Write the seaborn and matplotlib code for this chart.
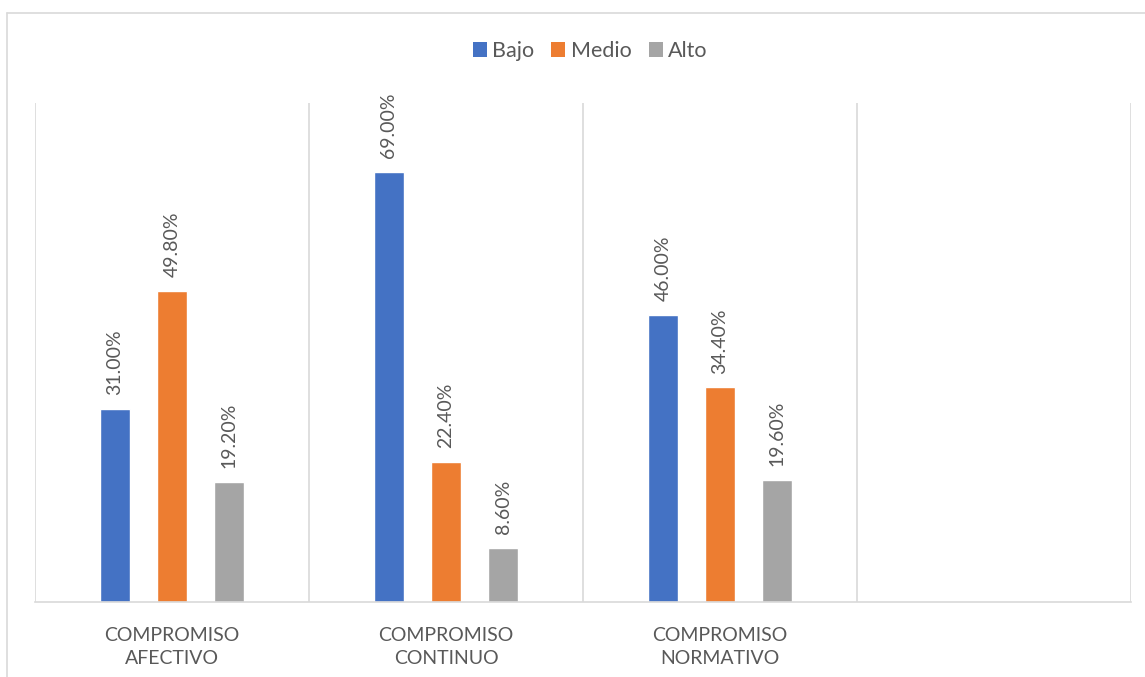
import matplotlib
matplotlib.use("Agg")
import matplotlib.pyplot as plt
from matplotlib.lines import Line2D
from matplotlib.patches import Patch
import seaborn as sns
import pandas as pd

categories = ["COMPROMISO\nAFECTIVO", "COMPROMISO\nCONTINUO", "COMPROMISO\nNORMATIVO"]
levels = ["Bajo", "Medio", "Alto"]
bajo = [31.0, 69.0, 46.0]
medio = [49.8, 22.4, 34.4]
alto = [19.2, 8.6, 19.6]
colors = ["#4472C4", "#ED7D31", "#A5A5A5"]

rows = []
for i, c in enumerate(categories):
    for lvl, vals in zip(levels, [bajo, medio, alto]):
        rows.append({"cat": c, "nivel": lvl, "valor": vals[i]})
df = pd.DataFrame(rows)

sns.set_theme(style="white")
plt.rcParams["font.family"] = ["Lato", "DejaVu Sans"]

fig = plt.figure(figsize=(11.45, 6.77), dpi=100)
ax = fig.add_axes([35/1145, 1-602/677, (1131-35)/1145, (602-103)/677])

sns.barplot(data=df, x="cat", y="valor", hue="nivel", hue_order=levels,
            palette=colors, width=0.625, gap=0.47, ax=ax, legend=False,
            saturation=1, errorbar=None)

ax.set_xlim(-0.5, 3.5)
ax.set_ylim(0, 80)
ax.set_xlabel("")
ax.set_ylabel("")
ax.set_yticks([])
ax.set_xticks(range(len(categories)))
ax.set_xticklabels(categories, fontsize=14, color="#595959", linespacing=1.45)
ax.tick_params(axis="x", length=0, pad=18)
for s in ["top", "right", "left"]:
    ax.spines[s].set_visible(False)
ax.spines["bottom"].set_color("#D9D9D9")
ax.spines["bottom"].set_linewidth(1.2)
for xv in [-0.5, 0.5, 1.5, 2.5, 3.5]:
    ax.axvline(xv, color="#D9D9D9", lw=1.2, zorder=0)

for cont in ax.containers:
    ax.bar_label(cont, labels=[f"{v:.2f}%" for v in cont.datavalues],
                 rotation=90, padding=10, fontsize=14, color="#595959")

handles = [Patch(facecolor=c, edgecolor="none") for c in colors]
fig.legend(handles, levels, loc="center", bbox_to_anchor=(590/1145, 1-51/677),
           ncol=3, frameon=False, fontsize=15.5, handlelength=0.65, handleheight=0.65,
           handletextpad=0.25, columnspacing=0.8, labelcolor="#595959")

# outer chart frame (top and left visible)
fig.add_artist(Line2D([6.5/1145, 1.0], [1-13/677, 1-13/677], transform=fig.transFigure,
                      color="#D9D9D9", lw=1.2))
fig.add_artist(Line2D([6.5/1145, 6.5/1145], [0, 1-13/677], transform=fig.transFigure,
                      color="#D9D9D9", lw=1.2))

fig.savefig("out.png", dpi=100, facecolor="white")
